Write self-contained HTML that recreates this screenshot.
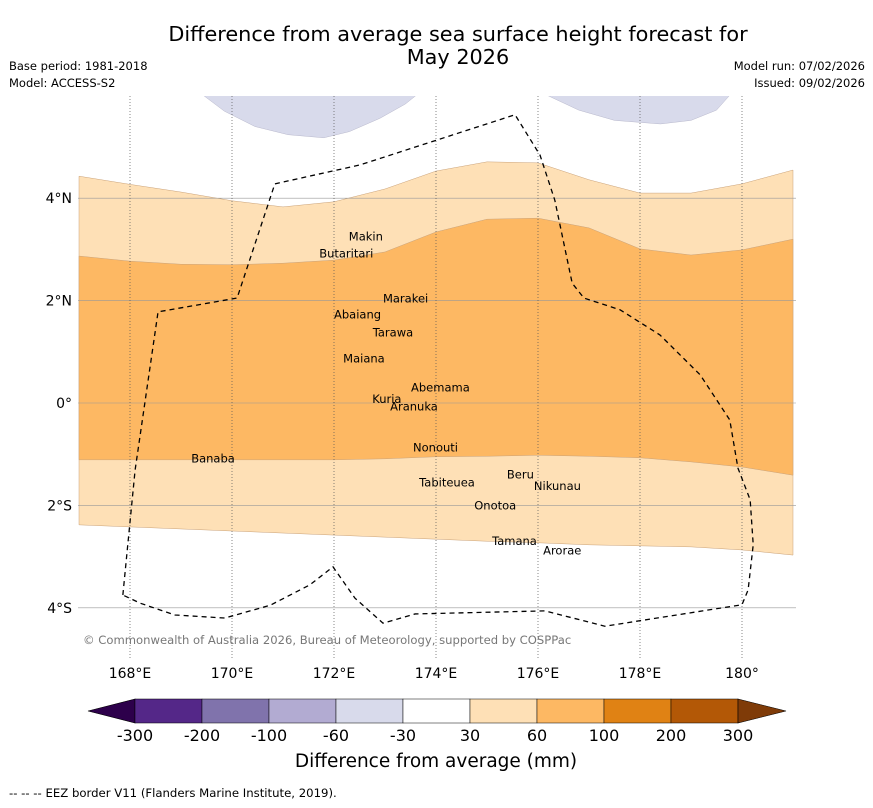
<!DOCTYPE html>
<html><head><meta charset="utf-8">
<style>
body{margin:0;background:#fff;font-family:"DejaVu Sans","Liberation Sans",sans-serif;}
svg text{font-family:"DejaVu Sans","Liberation Sans",sans-serif;}
</style></head>
<body>
<svg id="chart" width="873" height="804" viewBox="0 0 873 804" xmlns="http://www.w3.org/2000/svg">
<rect width="873" height="804" fill="#fff"/>
<text x="458" y="41" font-size="20.8" text-anchor="middle">Difference from average sea surface height forecast for</text>
<text x="458" y="64" font-size="20.8" text-anchor="middle">May 2026</text>
<text x="9" y="70" font-size="11.5">Base period: 1981-2018</text>
<text x="9" y="87" font-size="11.5">Model: ACCESS-S2</text>
<text x="865" y="70" font-size="11.5" text-anchor="end">Model run: 07/02/2026</text>
<text x="865" y="87" font-size="11.5" text-anchor="end">Issued: 09/02/2026</text>
<defs><clipPath id="mapclip"><rect x="78" y="96" width="718" height="562"/></clipPath></defs>
<g id="map" clip-path="url(#mapclip)"></g>
<g id="overlay"></g>
<g id="colorbar"></g>
<text x="436" y="767" font-size="18.5" text-anchor="middle">Difference from average (mm)</text>
<text x="9" y="797" font-size="11.7">--  --  -- EEZ border V11 (Flanders Marine Institute, 2019).</text>
</svg>
<script>
const lons=[167,168,169,170,171,172,173,174,175,176,177,178,179,180,181];
const topLightEdge=[4.43,4.27,4.12,3.95,3.83,3.93,4.18,4.53,4.71,4.69,4.36,4.10,4.10,4.28,4.55];
const topDarkEdge=[2.87,2.77,2.71,2.70,2.73,2.79,2.95,3.34,3.59,3.61,3.42,3.01,2.89,2.99,3.20];
const bottomDarkEdge=[-1.11,-1.11,-1.11,-1.11,-1.11,-1.11,-1.09,-1.05,-1.04,-1.02,-1.04,-1.07,-1.15,-1.25,-1.41];
const bottomLightEdge=[-2.38,-2.42,-2.46,-2.50,-2.54,-2.58,-2.62,-2.66,-2.70,-2.73,-2.77,-2.79,-2.81,-2.87,-2.97];
const blobLeft=[[169.45,6.2],[169.45,6.0],[169.85,5.7],[170.45,5.4],[171.1,5.24],[171.8,5.18],[172.3,5.3],[172.9,5.56],[173.4,5.84],[173.6,6.0],[173.6,6.2]];
const blobRight=[[176.2,6.2],[176.2,6.0],[176.8,5.72],[177.5,5.52],[178.4,5.45],[179.0,5.52],[179.5,5.72],[179.75,6.0],[179.75,6.2]];
const eez=[[167.86,-3.75],[168.10,-1.31],[168.55,1.78],[170.10,2.05],[170.84,4.28],[172.51,4.65],[175.55,5.63],[176.04,4.84],[176.33,3.96],[176.67,2.34],[176.90,2.05],[177.61,1.82],[178.39,1.33],[179.18,0.55],[179.76,-0.33],[179.92,-1.27],[180.16,-1.89],[180.22,-2.77],[180.12,-3.65],[180.0,-3.94],[177.31,-4.36],[176.14,-4.06],[173.59,-4.12],[172.96,-4.30],[172.41,-3.81],[171.98,-3.20],[171.53,-3.55],[170.75,-3.95],[169.86,-4.20],[168.88,-4.14],[168.20,-3.91],[167.86,-3.75]];
const lonTicks=[168,170,172,174,176,178,180];
const lonTickLabels=["168°E","170°E","172°E","174°E","176°E","178°E","180°"];
const latTicks=[4,2,0,-2,-4];
const latTickLabels=["4°N","2°N","0°","2°S","4°S"];
const islandNames=["Makin","Butaritari","Marakei","Abaiang","Tarawa","Maiana","Abemama","Kuria","Aranuka","Nonouti","Banaba","Tabiteuea","Beru","Nikunau","Onotoa","Tamana","Arorae"];
const islandLon=[172.29,171.71,172.96,172.0,172.76,172.18,173.51,172.75,173.10,173.55,169.2,173.67,175.39,175.92,174.75,175.1,176.1];
const islandLat=[3.25,2.92,2.04,1.73,1.38,0.87,0.3,0.08,-0.07,-0.87,-1.08,-1.55,-1.4,-1.62,-2.0,-2.7,-2.88];
const cbLabels=["-300","-200","-100","-60","-30","30","60","100","200","300"];
const cbColors=["#542788","#8073ac","#b2abd2","#d8daeb","#ffffff","#fee0b6","#fdb863","#e08214","#b35806"];

const NS="http://www.w3.org/2000/svg";
const X=lon=>130+51*(lon-168);
const Y=lat=>403-51.2*lat;
function mk(tag,attrs,parent){const e=document.createElementNS(NS,tag);for(const k in attrs)e.setAttribute(k,attrs[k]);parent.appendChild(e);return e;}
const map=document.getElementById('map'),ov=document.getElementById('overlay'),cb=document.getElementById('colorbar');
function band(upper,lower,fill,name){
  let d="M"+lons.map((l,i)=>X(l)+","+Y(upper[i])).join("L");
  d+="L"+lons.slice().reverse().map((l,j)=>X(l)+","+Y(lower[lons.length-1-j])).join("L")+"Z";
  const p=mk('path',{d:d,fill:fill,stroke:"#c9a27a","stroke-width":0.5},map);
  
  
}
band(topLightEdge,bottomLightEdge,"#fee0b6","band-30-60");
band(topDarkEdge,bottomDarkEdge,"#fdb863","band-60-100");
[[blobLeft,"blob-left"],[blobRight,"blob-right"]].forEach(([pts,n])=>{
  const p=mk('path',{d:"M"+pts.map(q=>X(q[0])+","+Y(q[1])).join("L")+"Z",fill:"#d8daeb",stroke:"#b8b8cc","stroke-width":0.5},map);
  
  
});
latTicks.forEach((t,i)=>{
  const l=mk('line',{x1:78,x2:796,y1:Y(t),y2:Y(t),stroke:"#999","stroke-width":0.6},map);
  
  
  const tx=mk('text',{x:72,y:Y(t)+5,"font-size":14,"text-anchor":"end"},ov);tx.textContent=latTickLabels[i];
  
  
});
lonTicks.forEach((t,i)=>{
  const l=mk('line',{x1:X(t),x2:X(t),y1:96,y2:658,stroke:"#555","stroke-width":0.7,"stroke-dasharray":"1,2"},map);
  
  
  const tx=mk('text',{x:X(t),y:678,"font-size":14,"text-anchor":"middle"},ov);tx.textContent=lonTickLabels[i];
  
  
});
const e=mk('path',{d:"M"+eez.map(q=>X(q[0])+","+Y(q[1])).join("L"),fill:"none",stroke:"#000","stroke-width":1.3,"stroke-dasharray":"5,4"},map);


islandNames.forEach((n,i)=>{
  const tx=mk('text',{x:X(islandLon[i]),y:Y(islandLat[i])+4,"font-size":11.5,"text-anchor":"start"},map);tx.textContent=n;
  
  
});
const cr=mk('text',{x:83,y:644,"font-size":11.6,fill:"#777"},map);cr.textContent="© Commonwealth of Australia 2026, Bureau of Meteorology, supported by COSPPac";


const cbX0=135,cbW=67.0,cbY=699,cbH=24;
const tl=mk('path',{d:`M${cbX0},${cbY}L88,${cbY+cbH/2}L${cbX0},${cbY+cbH}Z`,fill:"#2d004b",stroke:"#000","stroke-width":0.6},cb);


cbColors.forEach((c,i)=>{
  const r=mk('rect',{x:cbX0+i*cbW,y:cbY,width:cbW,height:cbH,fill:c,stroke:"#000","stroke-width":0.5},cb);
  
  
});
const xe=cbX0+cbColors.length*cbW;
const tr=mk('path',{d:`M${xe},${cbY}L786,${cbY+cbH/2}L${xe},${cbY+cbH}Z`,fill:"#7f3b08",stroke:"#000","stroke-width":0.6},cb);


cbLabels.forEach((s,i)=>{
  const tx=mk('text',{x:cbX0+i*cbW,y:741,"font-size":16,"text-anchor":"middle"},cb);tx.textContent=s;
  
  
});
</script>
</body></html>
